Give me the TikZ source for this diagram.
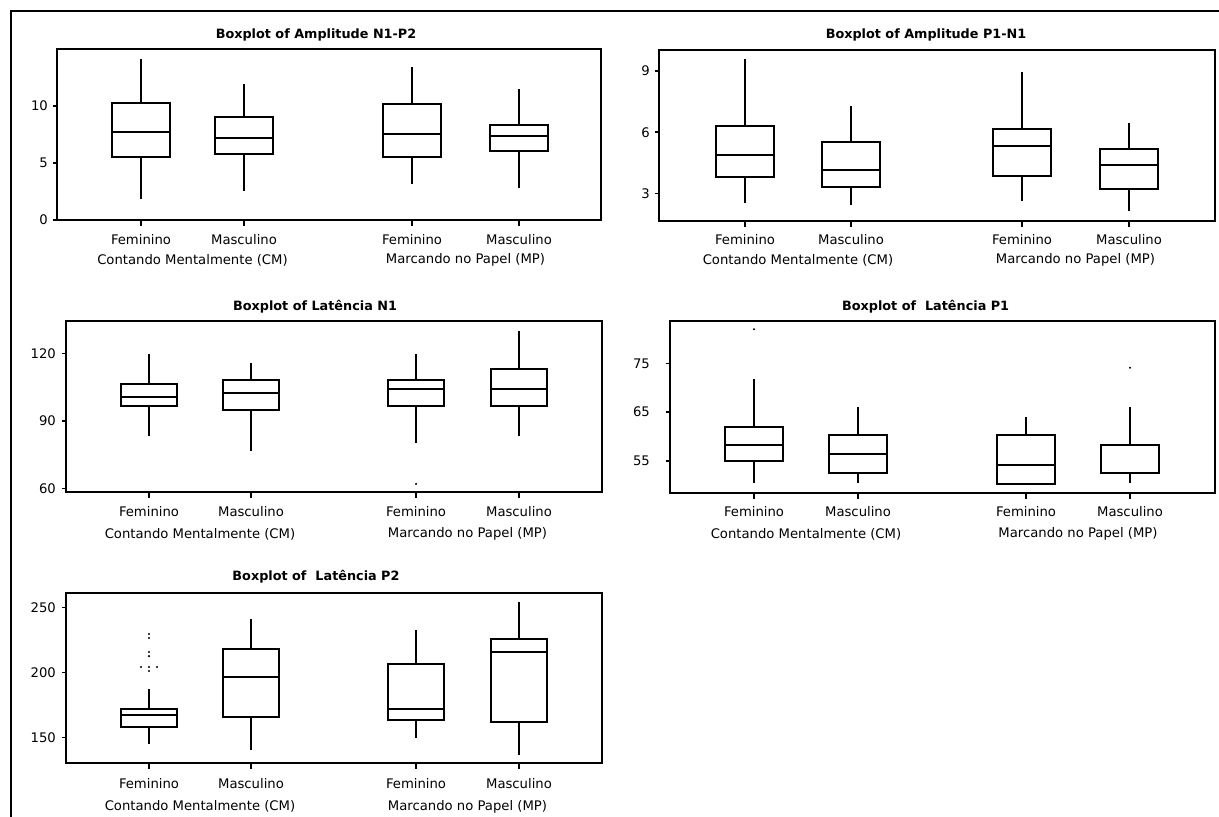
\documentclass[tikz,border=0pt]{standalone}
\usepackage{fontspec}
\setmainfont{DejaVu Sans}
\tikzset{
  frm/.style = {draw, line width=2pt},
  bx/.style  = {draw, line width=2pt},
  tk/.style  = {line width=1.5pt},
  ttl/.style = {font=\fontsize{12.8}{14}\selectfont\bfseries, inner sep=0pt},
  lbl/.style = {font=\fontsize{13.2}{15}\selectfont, inner sep=0pt},
}

\begin{document}
\begin{tikzpicture}[x=1pt,y=1pt]
  \useasboundingbox (0,0) rectangle (1219,-817);
  % --- outer frame
  \draw[line width=2pt] (11,-820) -- (11,-11) -- (1222,-11);

  % --- Amplitude N1-P2
  \draw[frm] (57,-49) rectangle (601,-220);
  \node[ttl] (t1) at (316,-35) {Boxplot of Amplitude N1-P2};
  \begin{scope}[shift={(0,-220)}, y=11.4pt]
    \foreach \v in {0,5,10}{
      \draw[tk] (57,\v) -- (53,\v);
      \node[lbl, anchor=east] (a\v) at (48,\v) {\v};
    }
    \foreach \x/\lo/\qa/\md/\qb/\hi in {141/1.87/5.5/7.75/10.3/14.1,
        244/2.57/5.82/7.2/9.06/11.9, 412/3.2/5.5/7.54/10.15/13.4,
        519/2.78/6.05/7.37/8.3/11.5}{
      \draw[bx] (\x,\lo) -- (\x,\qa) (\x,\qb) -- (\x,\hi);
      \draw[bx] (\x-29,\qa) rectangle (\x+29,\qb);
      \draw[bx] (\x-29,\md) -- (\x+29,\md);
    }
  \end{scope}
  \foreach \x/\g in {141/Feminino, 244/Masculino, 412/Feminino, 519/Masculino}{
    \draw[tk] (\x,-220) -- (\x,-226);
    \node[lbl] (ag\x) at (\x,-240) {\g};
  }
  \node[lbl] (acm) at (192.5,-260) {Contando Mentalmente (CM)};
  \node[lbl] (amp) at (465.5,-260) {Marcando no Papel (MP)};

  % --- Amplitude P1-N1
  \draw[frm] (659,-50) rectangle (1215,-221);
  \node[ttl] (t2) at (926,-35) {Boxplot of Amplitude P1-N1};
  \begin{scope}[shift={(0,-254.6)}, y=20.4pt]
    \foreach \v in {3,6,9}{
      \draw[tk] (659,\v) -- (655,\v);
      \node[lbl, anchor=east] (b\v) at (650,\v) {\v};
    }
    \foreach \x/\lo/\qa/\md/\qb/\hi in {745/2.54/3.82/4.87/6.32/9.57,
        851/2.43/3.3/4.13/5.5/7.28, 1022/2.64/3.84/5.32/6.14/8.97,
        1129/2.14/3.2/4.38/5.19/6.47}{
      \draw[bx] (\x,\lo) -- (\x,\qa) (\x,\qb) -- (\x,\hi);
      \draw[bx] (\x-29,\qa) rectangle (\x+29,\qb);
      \draw[bx] (\x-29,\md) -- (\x+29,\md);
    }
  \end{scope}
  \foreach \x/\g in {745/Feminino, 851/Masculino, 1022/Feminino, 1129/Masculino}{
    \draw[tk] (\x,-221) -- (\x,-227);
    \node[lbl] (bg\x) at (\x,-240) {\g};
  }
  \node[lbl] (bcm) at (798,-260) {Contando Mentalmente (CM)};
  \node[lbl] (bmp) at (1075.5,-260) {Marcando no Papel (MP)};

  % --- Latencia N1
  \draw[frm] (66,-321) rectangle (602,-492);
  \node[ttl] (t3) at (315,-306.7) {Boxplot of Latência N1};
  \begin{scope}[shift={(0,-624.1)}, y=2.257pt]
    \foreach \v in {60,90,120}{
      \draw[tk] (66,\v) -- (62,\v);
      \node[lbl, anchor=east] (c\v) at (56,\v) {\v};
    }
    \foreach \x/\lo/\qa/\md/\qb/\hi in {149/83.3/96.6/100.5/106.2/119.7,
        251/76.6/94.9/102.3/108.1/115.8, 416/80.4/96.6/104.3/108.1/119.7,
        519/83.3/96.6/104.3/112.9/130}{
      \draw[bx] (\x,\lo) -- (\x,\qa) (\x,\qb) -- (\x,\hi);
      \draw[bx] (\x-28,\qa) rectangle (\x+28,\qb);
      \draw[bx] (\x-28,\md) -- (\x+28,\md);
    }
    \fill (416,62.1) circle[radius=1.2pt];
  \end{scope}
  \foreach \x/\g in {149/Feminino, 251/Masculino, 416/Feminino, 519/Masculino}{
    \draw[tk] (\x,-492) -- (\x,-498);
    \node[lbl] (cg\x) at (\x,-511.7) {\g};
  }
  \node[lbl] (ccm) at (200,-534) {Contando Mentalmente (CM)};
  \node[lbl] (cmp) at (467.5,-534) {Marcando no Papel (MP)};

  % --- Latencia P1
  \draw[frm] (670,-321) rectangle (1215,-493);
  \node[ttl] (t4) at (925.6,-306.7) {Boxplot of\ \ Latência P1};
  \begin{scope}[shift={(0,-728.6)}, y=4.87pt]
    \foreach \v in {55,65,75}{
      \draw[tk] (670,\v) -- (666,\v);
      \node[lbl, anchor=east] (d\v) at (650,\v) {\v};
    }
    \foreach \x/\lo/\qa/\md/\qb/\hi in {754/50.5/54.9/58.2/62.0/71.7,
        858/50.5/52.4/56.4/60.2/66.0, 1026/50.2/50.2/54.1/60.2/63.9,
        1130/50.5/52.4/52.4/58.2/66.0}{
      \draw[bx] (\x,\lo) -- (\x,\qa) (\x,\qb) -- (\x,\hi);
      \draw[bx] (\x-29,\qa) rectangle (\x+29,\qb);
      \draw[bx] (\x-29,\md) -- (\x+29,\md);
    }
    \fill (754,82.0) circle[radius=1.2pt];
    \fill (1130,74.1) circle[radius=1.2pt];
  \end{scope}
  \foreach \x/\g in {754/Feminino, 858/Masculino, 1026/Feminino, 1130/Masculino}{
    \draw[tk] (\x,-493) -- (\x,-499);
    \node[lbl] (dg\x) at (\x,-511.7) {\g};
  }
  \node[lbl] (dcm) at (806,-534) {Contando Mentalmente (CM)};
  \node[lbl] (dmp) at (1078,-534) {Marcando no Papel (MP)};

  % --- Latencia P2
  \draw[frm] (66,-593) rectangle (602,-763.3);
  \node[ttl] (t5) at (316,-576.7) {Boxplot of\ \ Latência P2};
  \begin{scope}[shift={(0,-932.3)}, y=1.3pt]
    \foreach \v in {150,200,250}{
      \draw[tk] (66,\v) -- (62,\v);
      \node[lbl, anchor=east] (e\v) at (56,\v) {\v};
    }
    \foreach \x/\lo/\qa/\md/\qb/\hi in {149/144.8/158.2/166.9/171.5/186.9,
        251/140.2/165.4/196.2/217.7/240.8, 416/149.7/163.3/171.5/206.2/232.5,
        519/136.6/161.8/215.6/225.4/253.8}{
      \draw[bx] (\x,\lo) -- (\x,\qa) (\x,\qb) -- (\x,\hi);
      \draw[bx] (\x-28,\qa) rectangle (\x+28,\qb);
      \draw[bx] (\x-28,\md) -- (\x+28,\md);
    }
    \foreach \x/\v in {149/229.5, 149/226.4, 149/215.6, 149/212.5,
        141/204.1, 149/204.1, 157/204.1, 149/201.0}{
      \fill (\x,\v) circle[radius=1.2pt];
    }
  \end{scope}
  \foreach \x/\g in {149/Feminino, 251/Masculino, 416/Feminino, 519/Masculino}{
    \draw[tk] (\x,-763.3) -- (\x,-769.3);
    \node[lbl] (eg\x) at (\x,-784) {\g};
  }
  \node[lbl] (ecm) at (200,-806.7) {Contando Mentalmente (CM)};
  \node[lbl] (emp) at (467.5,-806.7) {Marcando no Papel (MP)};
\end{tikzpicture}
\end{document}
